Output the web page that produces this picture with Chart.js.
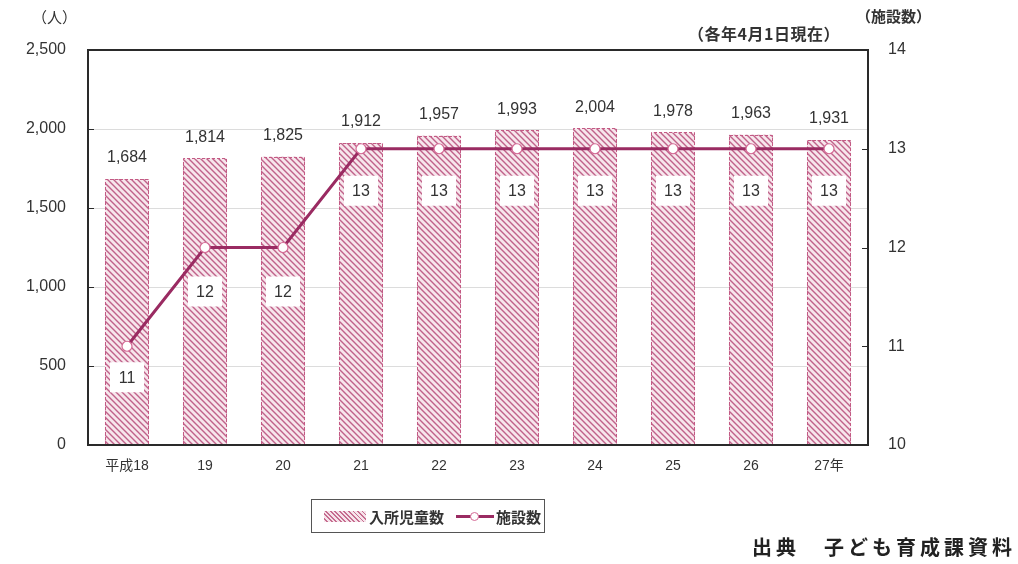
<!DOCTYPE html>
<html lang="ja">
<head>
<meta charset="utf-8">
<title>入所児童数と施設数の推移</title>
<script src="https://cdn.jsdelivr.net/npm/chart.js@4.4.1/dist/chart.umd.min.js"></script>
<style>
    html, body { margin: 0; padding: 0; background: #fff; }
    #wrap { position: relative; width: 1018px; height: 564px; overflow: hidden;
            font-family: "Liberation Sans", "Noto Sans CJK JP", sans-serif; color: #333; }
    #chart { position: absolute; left: 0; top: 0; }
    .note { position: absolute; white-space: nowrap; font-family: "Noto Sans CJK JP", sans-serif; }
    #unitL { left: 32px; top: 6px; font-size: 15px; }
    #unitR { left: 856px; top: 5px; font-size: 15px; font-weight: bold; }
    #asof { left: 688px; top: 21px; font-size: 16px; font-weight: bold; letter-spacing: 0.5px; }
    #source { left: 752px; top: 532px; font-size: 20px; font-weight: bold; color: #222; letter-spacing: 4px; }
    #legend { position: absolute; left: 311px; top: 499px; width: 234px; height: 34px;
              border: 1.5px solid #555; box-sizing: border-box; display: flex; align-items: center;
              font-family: "Noto Sans CJK JP", sans-serif; font-size: 15px; font-weight: bold; color: #333; }
    .sw-bar { display: inline-block; width: 42px; height: 11px; margin-left: 12px; margin-right: 3px;
              background: repeating-linear-gradient(45deg, #f6e3ea 0 2px, #c66d90 2px 3.2px); }
    .sw-line { display: inline-block; position: relative; width: 38px; height: 12px; margin-left: 12px; margin-right: 2px; }
    .sw-line::before { content: ""; position: absolute; left: 0; right: 0; top: 5px; height: 3px; background: #9a2b62; }
    .sw-line::after { content: ""; position: absolute; left: 14px; top: 2px; width: 7px; height: 7px;
                      border-radius: 50%; background: #fff; border: 1px solid #d46a95; }
</style>
</head>
<body>
<div id="wrap">
    <canvas id="chart" width="1018" height="564"></canvas>
    <div class="note" id="unitL">（人）</div>
    <div class="note" id="unitR">（施設数）</div>
    <div class="note" id="asof">（各年4月1日現在）</div>
    <div id="legend"><span class="sw-bar"></span>入所児童数<span class="sw-line"></span>施設数</div>
    <div class="note" id="source">出典　子ども育成課資料</div>
</div>
<script>
    // 年度ラベルと系列データ
    const years = ["平成18", "19", "20", "21", "22", "23", "24", "25", "26", "27年"];
    const children = [1684, 1814, 1825, 1912, 1957, 1993, 2004, 1978, 1963, 1931];
    const facilities = [11, 12, 12, 13, 13, 13, 13, 13, 13, 13];

    const leftTicks = [0, 500, 1000, 1500, 2000, 2500];
    const rightTicks = [10, 11, 12, 13, 14];

    const NUM_FONT = "'Liberation Sans', 'Noto Sans CJK JP', sans-serif";

    // 施設数ラベルの点からの下方向ずれ（px）
    const labelDrop = [31, 44, 44, 42, 42, 42, 42, 42, 42, 42];

    // 斜線ハッチのパターン（棒）
    function makeHatch() {
        const s = 6;
        const c = document.createElement("canvas");
        c.width = s; c.height = s;
        const g = c.getContext("2d");
        g.fillStyle = "#f7e6ec";
        g.fillRect(0, 0, s, s);
        g.strokeStyle = "#c0628a";
        g.lineWidth = 1.4;
        g.beginPath();
        g.moveTo(0, 0); g.lineTo(s, s);
        g.moveTo(-1, s - 1); g.lineTo(1, s + 1);
        g.moveTo(s - 1, -1); g.lineTo(s + 1, 1);
        g.stroke();
        return g.createPattern(c, "repeat");
    }

    const decor = {
        id: "decor",
        afterDatasetDraw(chart, args) {
            if (args.meta.type !== "bar") { return; }
            // 棒の破線枠
            const ctx = chart.ctx;
            ctx.save();
            ctx.setLineDash([3, 2]);
            ctx.strokeStyle = "#c45a84";
            ctx.lineWidth = 1;
            args.meta.data.forEach(function (el) {
                const l = Math.round(el.x - el.width / 2) + 0.5;
                const r = Math.round(el.x + el.width / 2) - 0.5;
                const t = Math.round(el.y) + 0.5;
                const b = Math.round(el.base);
                ctx.beginPath();
                ctx.moveTo(l, b); ctx.lineTo(l, t); ctx.lineTo(r, t); ctx.lineTo(r, b);
                ctx.stroke();
            });
            ctx.restore();
        },
        afterDatasetsDraw(chart) {
            const ctx = chart.ctx;
            const area = chart.chartArea;
            const barMeta = chart.getDatasetMeta(1);
            const lineMeta = chart.getDatasetMeta(0);
            ctx.save();

            // 棒の上の数値
            ctx.font = "16px " + NUM_FONT;
            ctx.fillStyle = "#333";
            ctx.textAlign = "center";
            ctx.textBaseline = "middle";
            barMeta.data.forEach(function (el, i) {
                ctx.fillText(children[i].toLocaleString("en-US"), el.x, el.y - 21);
            });

            // 施設数の白抜きラベル
            lineMeta.data.forEach(function (el, i) {
                const cy = el.y + labelDrop[i];
                ctx.fillStyle = "#fff";
                ctx.fillRect(el.x - 17, cy - 15, 34, 30);
                ctx.fillStyle = "#333";
                ctx.fillText(String(facilities[i]), el.x, cy + 1);
            });

            // 枠と内向き目盛
            ctx.strokeStyle = "#2a2a2a";
            ctx.lineWidth = 2;
            ctx.strokeRect(area.left, area.top, area.right - area.left, area.bottom - area.top);
            ctx.lineWidth = 1;
            const yL = chart.scales.y, yR = chart.scales.y1;
            ctx.beginPath();
            leftTicks.forEach(function (v) {
                const py = Math.round(yL.getPixelForValue(v)) + 0.5;
                ctx.moveTo(area.left, py); ctx.lineTo(area.left + 6, py);
            });
            rightTicks.forEach(function (v) {
                const py = Math.round(yR.getPixelForValue(v)) + 0.5;
                ctx.moveTo(area.right - 6, py); ctx.lineTo(area.right, py);
            });
            ctx.stroke();
            ctx.restore();
        }
    };

    const ctx = document.getElementById("chart").getContext("2d");
    new Chart(ctx, {
        data: {
            labels: years,
            datasets: [{
                type: "line",
                label: "施設数",
                data: facilities,
                yAxisID: "y1",
                order: 0,
                borderColor: "#9a2b62",
                borderWidth: 3,
                tension: 0,
                pointRadius: 5,
                pointBorderWidth: 1.2,
                pointBackgroundColor: "#fff",
                pointBorderColor: "#d46a95"
            }, {
                type: "bar",
                label: "入所児童数",
                data: children,
                yAxisID: "y",
                order: 1,
                backgroundColor: makeHatch(),
                borderWidth: 0,
                barPercentage: 0.565,
                categoryPercentage: 1
            }]
        },
        plugins: [decor],
        options: {
            responsive: false,
            animation: false,
            layout: { padding: { top: 50, left: 0, right: 0, bottom: 0 } },
            plugins: { legend: { display: false }, tooltip: { enabled: false } },
            scales: {
                x: {
                    grid: { display: false, drawTicks: false },
                    border: { display: false },
                    ticks: { padding: 13, color: "#333", font: { size: 14, family: NUM_FONT } },
                    afterFit: function (s) { s.height = 119; }
                },
                y: {
                    position: "left",
                    min: 0, max: 2500,
                    afterBuildTicks: function (s) { s.ticks = leftTicks.map(function (v) { return { value: v }; }); },
                    grid: {
                        drawTicks: false,
                        color: function (c) {
                            const v = c.tick && c.tick.value;
                            return (v === 0 || v === 2500) ? "rgba(0,0,0,0)" : "#dcdcdc";
                        },
                        lineWidth: 1
                    },
                    border: { display: false },
                    ticks: {
                        padding: 22, color: "#333", font: { size: 16, family: NUM_FONT },
                        callback: function (v) { return Number(v).toLocaleString("en-US"); }
                    },
                    afterFit: function (s) { s.width = 88; }
                },
                y1: {
                    position: "right",
                    min: 10, max: 14,
                    afterBuildTicks: function (s) { s.ticks = rightTicks.map(function (v) { return { value: v }; }); },
                    grid: { display: false, drawTicks: false },
                    border: { display: false },
                    ticks: { padding: 20, color: "#333", font: { size: 16, family: NUM_FONT } },
                    afterFit: function (s) { s.width = 150; }
                }
            }
        }
    });
</script>
</body>
</html>
